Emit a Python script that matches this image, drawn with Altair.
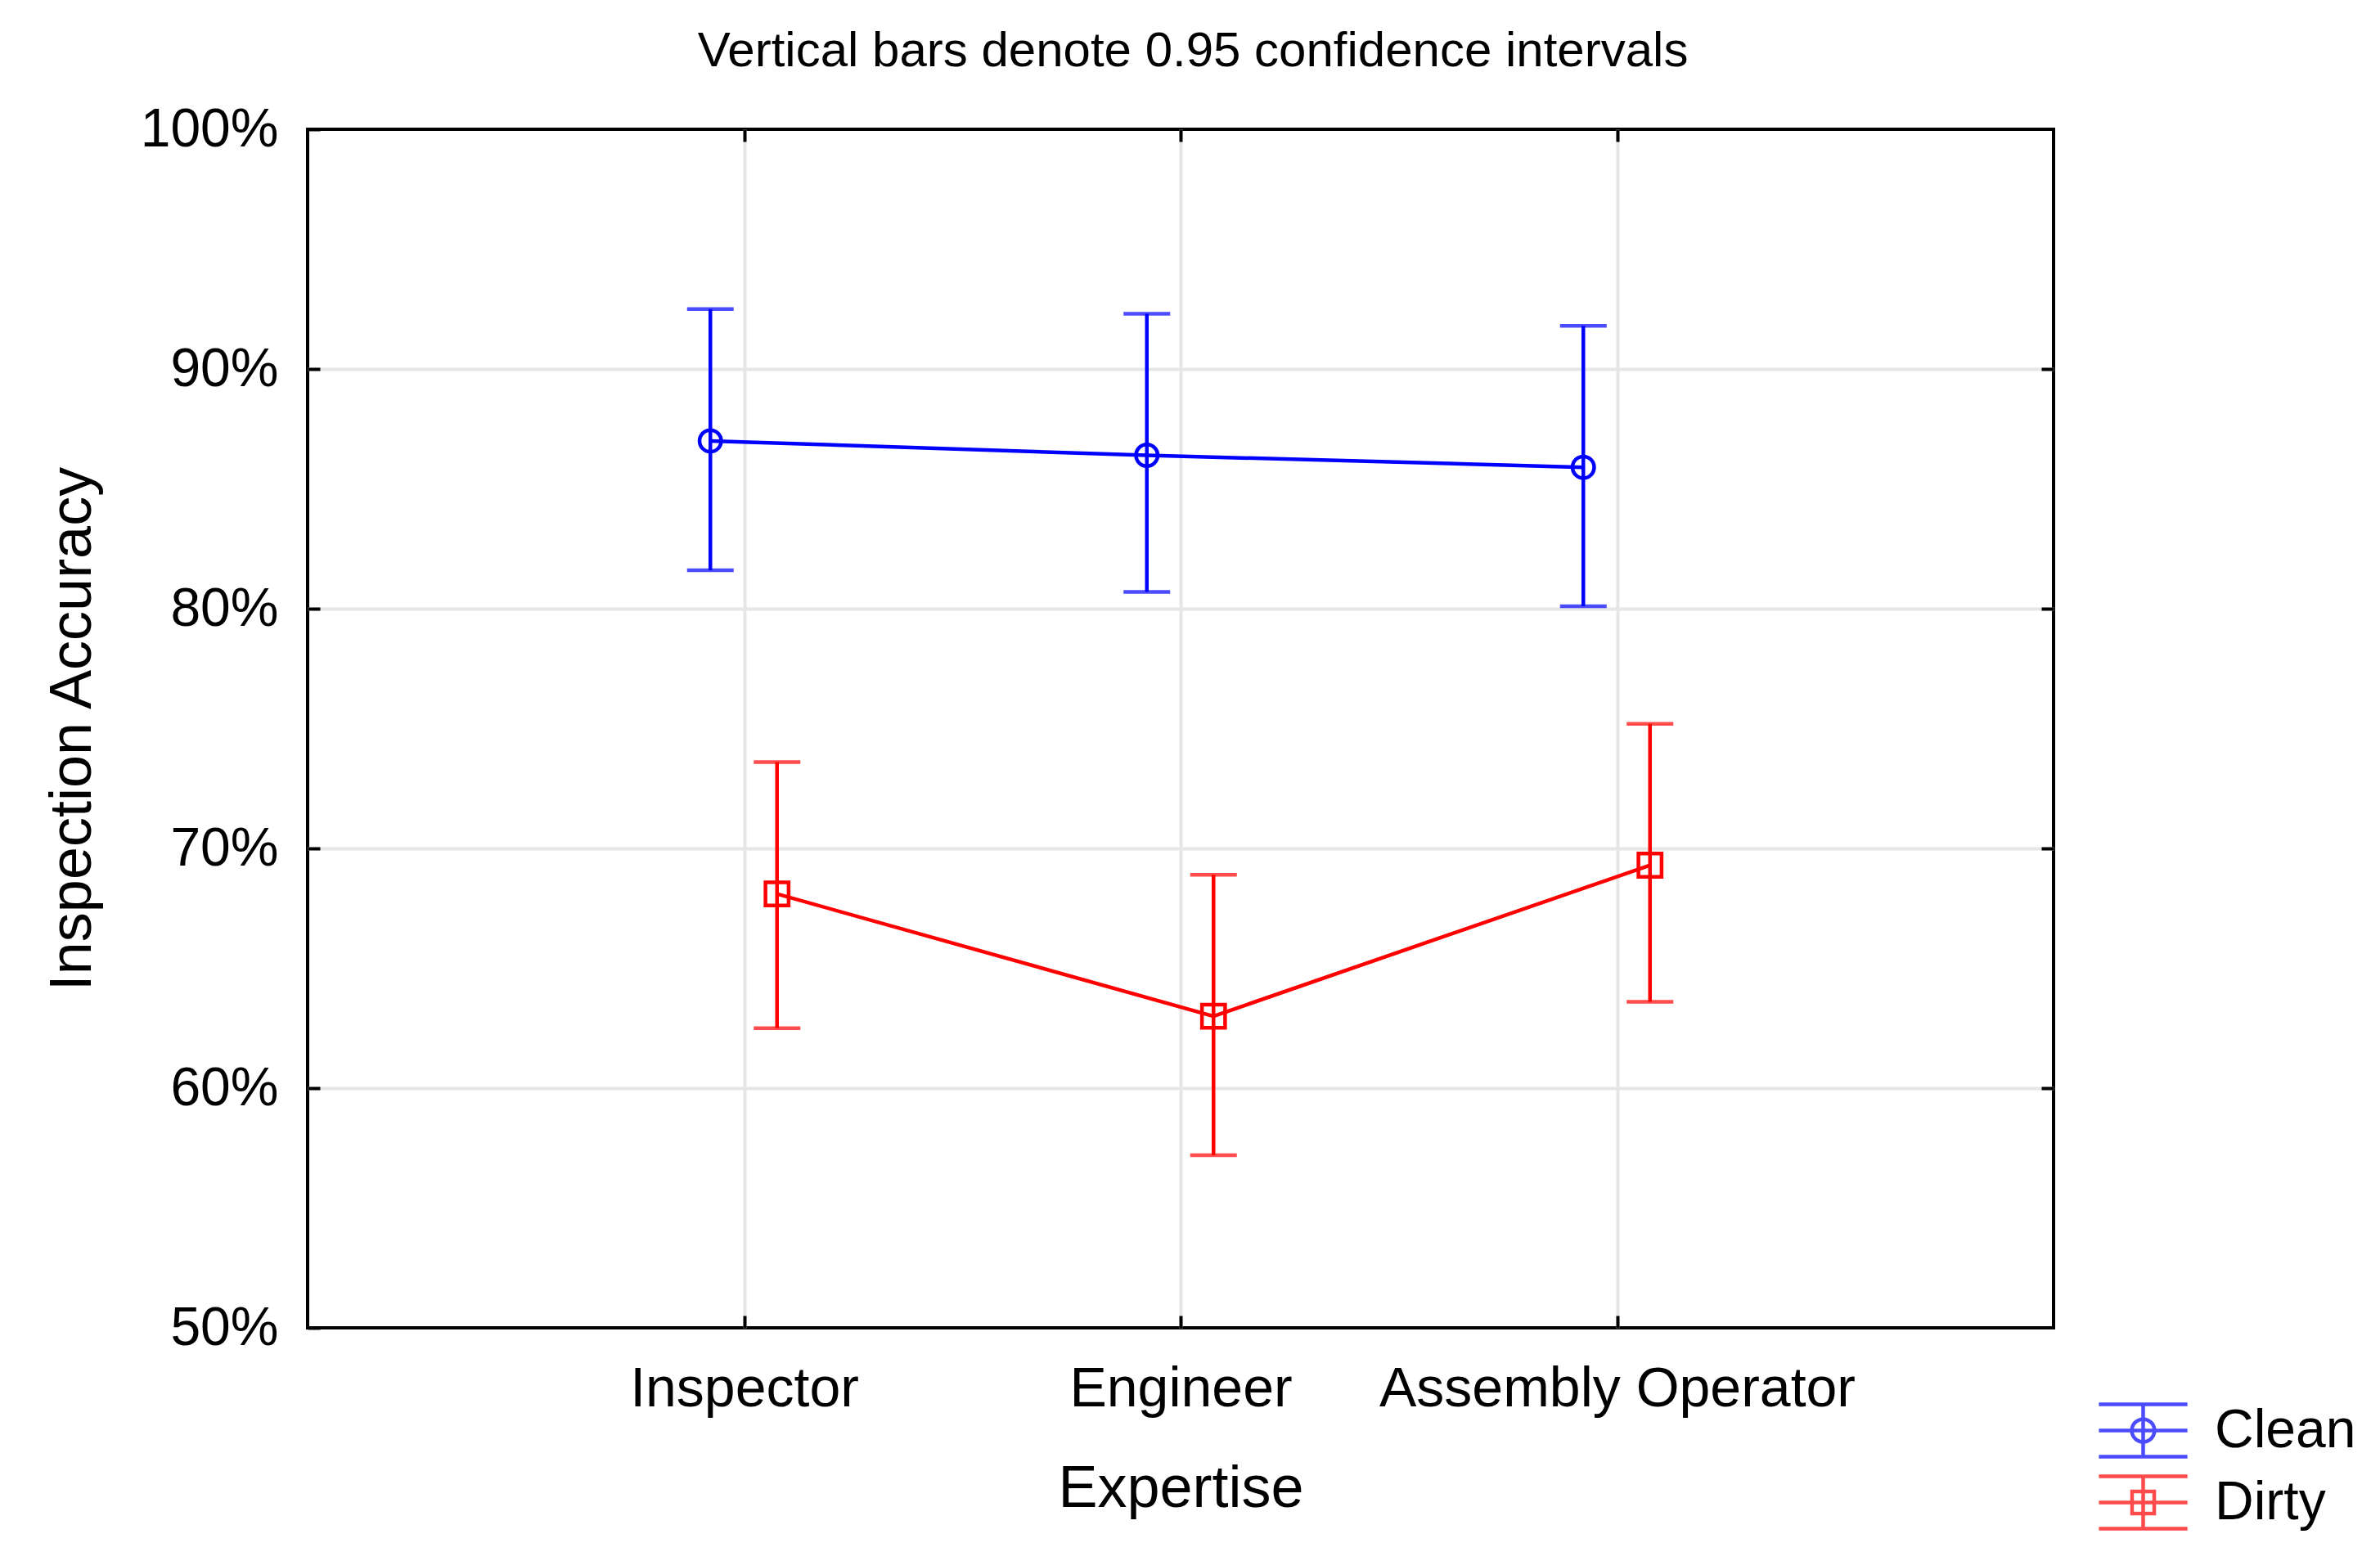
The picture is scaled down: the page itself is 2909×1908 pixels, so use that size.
import altair as alt
import pandas as pd

categories = ["Inspector", "Engineer", "Assembly Operator"]
series_names = ["Clean", "Dirty"]
clean_mean = [87.0, 86.4, 85.9]
clean_low = [81.6, 80.7, 80.1]
clean_high = [92.5, 92.3, 91.8]
dirty_mean = [68.1, 63.0, 69.3]
dirty_low = [62.5, 57.2, 63.6]
dirty_high = [73.6, 68.9, 75.2]
y_ticks = [50, 60, 70, 80, 90, 100]
grid_ticks = [60, 70, 80, 90]
colors = ["#0000ff", "#ff0000"]

rows = []
for i, c in enumerate(categories):
    rows.append(dict(category=c, series="Clean", mean=clean_mean[i], low=clean_low[i], high=clean_high[i]))
    rows.append(dict(category=c, series="Dirty", mean=dirty_mean[i], low=dirty_low[i], high=dirty_high[i]))
df = pd.DataFrame(rows)

F = "Liberation Sans"
W, H = 2134, 1465
SW = 4.5

xscale = alt.Scale(type="point", domain=categories, padding=1)
yscale = alt.Scale(domain=[50, 100], nice=False, zero=False)
xoff = alt.XOffset("series:N", scale=alt.Scale(domain=series_names, range=[-82, 81]))
col = alt.Color("series:N", scale=alt.Scale(domain=series_names, range=colors), legend=None)

common_axis = dict(tickSize=15, tickWidth=4, tickColor="black", offset=-15, domain=False)

x_bottom = alt.Axis(orient="bottom", labelFontSize=68, labelFont=F, labelColor="black",
                    labelPadding=41, labelAngle=0, labelLimit=0, grid=True, gridColor="#e6e6e6", gridWidth=4,
                    title="Expertise", titleFontSize=72, titleFont=F, titleFontWeight="normal",
                    titleColor="black", titlePadding=52, **common_axis)
y_left = alt.Axis(orient="left", values=y_ticks, labelExpr="datum.value + '%'", labelFontSize=66,
                  labelFont=F, labelColor="black", labelPadding=36, labelLimit=0, grid=False,
                  title="Inspection Accuracy", titleFontSize=72, titleFont=F, titleFontWeight="normal",
                  titleColor="black", titlePadding=66, **common_axis)
x_top = alt.Axis(orient="top", labels=False, grid=False, title=None, **common_axis)
y_right = alt.Axis(orient="right", values=grid_ticks, labels=False, grid=True, gridColor="#e6e6e6",
                   gridWidth=4, title=None, **common_axis)

base = alt.Chart(df)

rules = base.mark_rule(strokeWidth=SW).encode(
    x=alt.X("category:N", scale=xscale, axis=x_bottom),
    xOffset=xoff,
    y=alt.Y("low:Q", scale=yscale, axis=y_left),
    y2="high:Q",
    color=col,
)

caps_hi = base.mark_tick(size=57, thickness=SW).encode(
    x=alt.X("category:N", scale=xscale, axis=x_top),
    xOffset=xoff,
    y=alt.Y("high:Q", scale=yscale, axis=y_right),
    color=col,
)

caps_lo = base.mark_tick(size=57, thickness=SW).encode(
    x=alt.X("category:N", scale=xscale, axis=None),
    xOffset=xoff,
    y=alt.Y("low:Q", scale=yscale, axis=None),
    color=col,
)

line = base.mark_line(strokeWidth=SW).encode(
    x=alt.X("category:N", scale=xscale, axis=None),
    xOffset=xoff,
    y=alt.Y("mean:Q", scale=yscale, axis=None),
    color=col,
)

points = base.mark_point(filled=False, strokeWidth=SW, opacity=1).encode(
    x=alt.X("category:N", scale=xscale, axis=None),
    xOffset=xoff,
    y=alt.Y("mean:Q", scale=yscale, axis=None),
    color=col,
    shape=alt.Shape("series:N", scale=alt.Scale(domain=series_names, range=["circle", "square"]), legend=None),
    size=alt.Size("series:N", scale=alt.Scale(domain=series_names, range=[700, 800]), legend=None),
)

path_clean = ("M-1.64,-0.97H1.64M-1.64,0H1.64M-1.64,0.97H1.64M0,-0.97V0.97"
              "M0.42,0A0.42,0.42 0 1,1 -0.42,0A0.42,0.42 0 1,1 0.42,0Z")
path_dirty = ("M-1.64,-0.97H1.64M-1.64,0H1.64M-1.64,0.97H1.64M0,-0.97V0.97"
              "M-0.41,-0.41H0.41V0.41H-0.41Z")

leg = alt.Legend(orient="none", legendX=2208, legendY=1555, title=None, labelFontSize=66,
                 labelFont=F, labelColor="black", labelLimit=0, symbolSize=4356, symbolStrokeWidth=SW,
                 labelOffset=52, rowPadding=5, padding=0)

legend_layer = base.mark_point(filled=False, strokeWidth=SW).encode(
    x=alt.X("category:N", scale=xscale, axis=None),
    y=alt.Y("mean:Q", scale=yscale, axis=None),
    color=alt.Color("series:N", scale=alt.Scale(domain=series_names, range=colors), legend=leg),
    shape=alt.Shape("series:N", scale=alt.Scale(domain=series_names, range=[path_clean, path_dirty]), legend=leg),
).transform_filter("false")

chart = alt.layer(rules, caps_hi, caps_lo, line, points, legend_layer).resolve_scale(
    color="independent", shape="independent", size="independent"
).resolve_axis(
    x="independent", y="independent"
).properties(
    width=W, height=H,
    background="white",
    title=alt.TitleParams("Vertical bars denote 0.95 confidence intervals", fontSize=60, font=F,
                          fontWeight="normal", color="black", anchor="middle", offset=10,
                          baseline="alphabetic", dx=15, dy=26),
    autosize=alt.AutoSizeParams(type="none"),
    padding={"left": 368, "top": 150, "right": 390, "bottom": 270},
).configure_view(stroke="black", strokeWidth=4)

chart.save("out.html", embed_options={"renderer": "svg", "actions": False})
